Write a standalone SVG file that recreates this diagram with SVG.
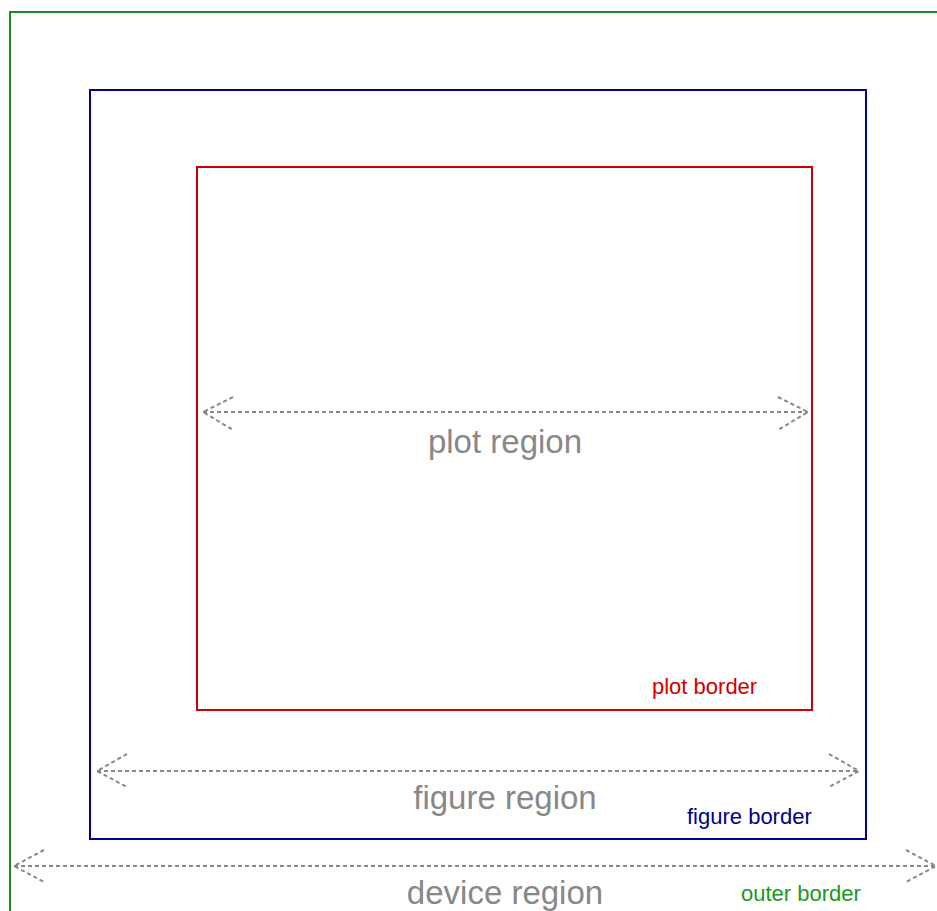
<svg xmlns="http://www.w3.org/2000/svg" width="937" height="911" viewBox="0 0 937 911">
  <style>
    .border { fill: none; stroke-width: 2; }
    .arrow { fill: none; stroke: #888888; stroke-width: 2; stroke-dasharray: 4 3; }
    .region { font-family: "Liberation Sans", Arial, sans-serif; font-size: 33px; fill: #888888; text-anchor: middle; }
    .label { font-family: "Liberation Sans", Arial, sans-serif; font-size: 22px; }
  </style>
  <rect width="937" height="911" fill="#ffffff"/>

  <!-- outer (device) border -->
  <g id="outer">
    <polyline class="border" stroke="#1a8a1a" points="10,920 10,12 940,12"/>
    <text class="label" x="741" y="901" fill="#1a9a1a">outer border</text>
  </g>

  <!-- figure border -->
  <g id="figure">
    <rect class="border" stroke="#00008b" x="90" y="90" width="776" height="749"/>
    <text class="label" x="687" y="824" fill="#00008b">figure border</text>
  </g>

  <!-- plot border -->
  <g id="plot">
    <rect class="border" stroke="#d00000" x="197" y="167" width="615" height="543"/>
    <text class="label" x="652" y="694" fill="#d00000">plot border</text>
  </g>

  <!-- region extents: double-headed dashed arrows -->
  <g id="connectors">
    <path class="arrow" d="M203,412 H808 M233,397 L203,412 L233,430 M778,397 L808,412 L778,430"/>
    <path class="arrow" d="M97,771 H859 M127,754 L97,771 L127,787 M829,754 L859,771 L829,787"/>
    <path class="arrow" d="M14,866 H936 M44,850 L14,866 L44,882 M906,850 L936,866 L906,882"/>
  </g>

  <text class="region" x="505" y="453">plot region</text>
  <text class="region" x="505" y="809">figure region</text>
  <text class="region" x="505" y="904">device region</text>
</svg>
